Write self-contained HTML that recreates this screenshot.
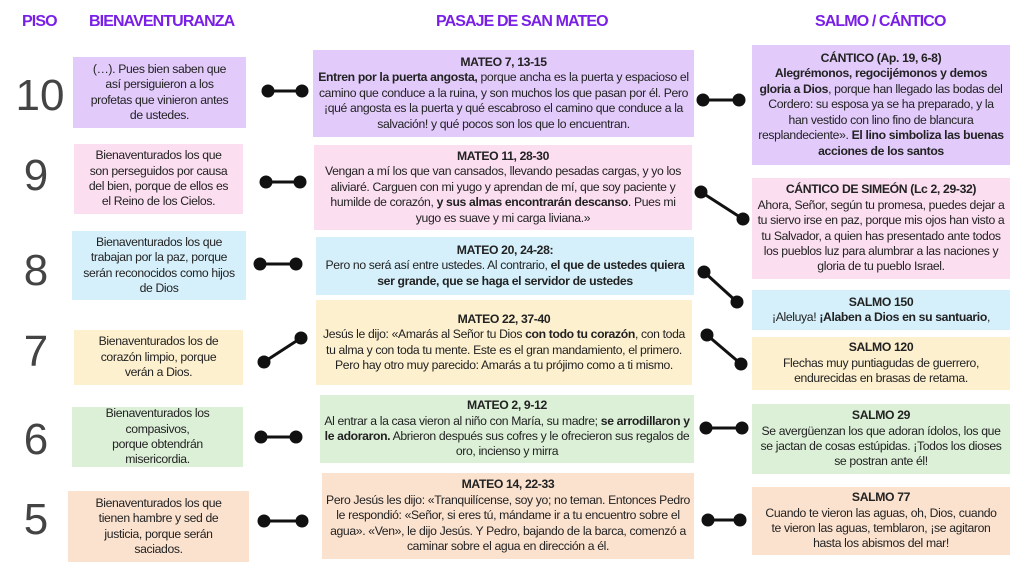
<!DOCTYPE html>
<html><head><meta charset="utf-8"><style>
body{margin:0;width:1024px;height:574px;background:#fff;position:relative;overflow:hidden;font-family:"Liberation Sans",sans-serif;}
.h{position:absolute;color:#7a1fe6;font-weight:bold;font-size:16px;letter-spacing:-0.9px;top:13px;}
.b{position:absolute;box-sizing:border-box;display:flex;flex-direction:column;justify-content:center;text-align:center;font-size:12.2px;line-height:15.4px;color:#222;padding:2px 3px;letter-spacing:-0.35px;}
.l{padding:2px 11px;}
.n{position:absolute;font-size:44px;color:#444;width:60px;text-align:center;line-height:44px;}
.pu{background:#e2cbfb}.pk{background:#fbdef0}.bl{background:#d5f0fb}.ye{background:#fdf0cf}.gr{background:#dcf0d8}.pe{background:#fbe2cf}
svg{position:absolute;left:0;top:0}
</style></head><body>
<div class="h" style="left:22px">PISO</div>
<div class="h" style="left:89px">BIENAVENTURANZA</div>
<div class="h" style="left:436px">PASAJE DE SAN MATEO</div>
<div class="h" style="left:815px">SALMO / CÁNTICO</div>

<div class="n" style="left:10px;top:74px">10</div>
<div class="n" style="left:6px;top:154px">9</div>
<div class="n" style="left:6px;top:249px">8</div>
<div class="n" style="left:6px;top:330px">7</div>
<div class="n" style="left:6px;top:418px">6</div>
<div class="n" style="left:6px;top:498px">5</div>

<div class="b l pu" style="left:73px;top:57px;width:173px;height:71px">(…). Pues bien saben que así persiguieron a los profetas que vinieron antes de ustedes.</div>
<div class="b l pk" style="left:74px;top:144px;width:169px;height:70px">Bienaventurados los que son perseguidos por causa del bien, porque de ellos es el Reino de los Cielos.</div>
<div class="b l bl" style="left:72px;top:231px;width:174px;height:69px">Bienaventurados los que trabajan por la paz, porque serán reconocidos como hijos de Dios</div>
<div class="b l ye" style="left:74px;top:330px;width:169px;height:55px">Bienaventurados los de corazón limpio, porque verán a Dios.</div>
<div class="b l gr" style="left:72px;top:407px;width:171px;height:60px">Bienaventurados los compasivos,<br>porque obtendrán misericordia.</div>
<div class="b l pe" style="left:68px;top:491px;width:181px;height:71px;padding:2px 16px">Bienaventurados los que tienen hambre y sed de justicia, porque serán saciados.</div>

<div class="b pu" style="left:313px;top:50px;width:381px;height:87px"><b>MATEO 7, 13-15</b><span><b>Entren por la puerta angosta,</b> porque ancha es la puerta y espacioso el camino que conduce a la ruina, y son muchos los que pasan por él. Pero ¡qué angosta es la puerta y qué escabroso el camino que conduce a la salvación! y qué pocos son los que lo encuentran.</span></div>
<div class="b pk" style="left:314px;top:145px;width:378px;height:85px"><b>MATEO 11, 28-30</b><span>Vengan a mí los que van cansados, llevando pesadas cargas, y yo los aliviaré. Carguen con mi yugo y aprendan de mí, que soy paciente y humilde de corazón, <b>y sus almas encontrarán descanso</b>. Pues mi yugo es suave y mi carga liviana.»</span></div>
<div class="b bl" style="left:316px;top:237px;width:378px;height:58px"><b>MATEO 20, 24-28:</b><span>Pero no será así entre ustedes. Al contrario, <b>el que de ustedes quiera ser grande, que se haga el servidor de ustedes</b></span></div>
<div class="b ye" style="left:316px;top:300px;width:376px;height:85px"><b>MATEO 22, 37-40</b><span>Jesús le dijo: «Amarás al Señor tu Dios <b>con todo tu corazón</b>, con toda tu alma y con toda tu mente. Este es el gran mandamiento, el primero. Pero hay otro muy parecido: Amarás a tu prójimo como a ti mismo.</span></div>
<div class="b gr" style="left:320px;top:395px;width:374px;height:68px"><b>MATEO 2, 9-12</b><span>Al entrar a la casa vieron al niño con María, su madre; <b>se arrodillaron y le adoraron.</b> Abrieron después sus cofres y le ofrecieron sus regalos de oro, incienso y mirra</span></div>
<div class="b pe" style="left:322px;top:473px;width:372px;height:86px"><b>MATEO 14, 22-33</b><span>Pero Jesús les dijo: «Tranquilícense, soy yo; no teman. Entonces Pedro le respondió: «Señor, si eres tú, mándame ir a tu encuentro sobre el agua». «Ven», le dijo Jesús. Y Pedro, bajando de la barca, comenzó a caminar sobre el agua en dirección a él.</span></div>

<div class="b l pu" style="left:752px;top:45px;width:258px;height:120px;padding:2px 6px"><b>CÁNTICO (Ap. 19, 6-8)</b><span><b>Alegrémonos, regocijémonos y demos gloria a Dios</b>, porque han llegado las bodas del Cordero: su esposa ya se ha preparado, y la han vestido con lino fino de blancura resplandeciente». <b>El lino simboliza las buenas acciones de los santos</b></span></div>
<div class="b pk" style="left:752px;top:178px;width:258px;height:101px;padding:2px 5px"><b>CÁNTICO DE SIMEÓN (Lc 2, 29-32)</b><span>Ahora, Señor, según tu promesa, puedes dejar a tu siervo irse en paz, porque mis ojos han visto a tu Salvador, a quien has presentado ante todos los pueblos luz para alumbrar a las naciones y gloria de tu pueblo Israel.</span></div>
<div class="b bl" style="left:752px;top:290px;width:258px;height:40px"><b>SALMO 150</b><span>¡Aleluya! <b>¡Alaben a Dios en su santuario</b>,</span></div>
<div class="b ye" style="left:752px;top:337px;width:258px;height:53px;padding:2px 14px"><b>SALMO 120</b><span>Flechas muy puntiagudas de guerrero, endurecidas en brasas de retama.</span></div>
<div class="b gr" style="left:752px;top:404px;width:258px;height:70px;padding:2px 5px"><b>SALMO 29</b><span>Se avergüenzan los que adoran ídolos, los que se jactan de cosas estúpidas. ¡Todos los dioses se postran ante él!</span></div>
<div class="b pe" style="left:752px;top:487px;width:258px;height:68px;padding:2px 8px"><b>SALMO 77</b><span>Cuando te vieron las aguas, oh, Dios, cuando te vieron las aguas, temblaron, ¡se agitaron hasta los abismos del mar!</span></div>

<svg width="1024" height="574" stroke="#111" stroke-width="3" fill="#111">
<g>
<line x1="268" y1="91" x2="302" y2="91"/><circle cx="268" cy="91" r="5"/><circle cx="302" cy="91" r="5"/>
<line x1="266" y1="182" x2="300" y2="182"/><circle cx="266" cy="182" r="5"/><circle cx="300" cy="182" r="5"/>
<line x1="260" y1="264" x2="296" y2="264"/><circle cx="260" cy="264" r="5"/><circle cx="296" cy="264" r="5"/>
<line x1="264" y1="362" x2="301" y2="338"/><circle cx="264" cy="362" r="5"/><circle cx="301" cy="338" r="5"/>
<line x1="261" y1="437" x2="296" y2="437"/><circle cx="261" cy="437" r="5"/><circle cx="296" cy="437" r="5"/>
<line x1="264" y1="521" x2="302" y2="521"/><circle cx="264" cy="521" r="5"/><circle cx="302" cy="521" r="5"/>
<line x1="703" y1="100" x2="739" y2="100"/><circle cx="703" cy="100" r="5"/><circle cx="739" cy="100" r="5"/>
<line x1="701" y1="192" x2="743" y2="219"/><circle cx="701" cy="192" r="5"/><circle cx="743" cy="219" r="5"/>
<line x1="704" y1="272" x2="737" y2="302"/><circle cx="704" cy="272" r="5"/><circle cx="737" cy="302" r="5"/>
<line x1="707" y1="335" x2="741" y2="364"/><circle cx="707" cy="335" r="5"/><circle cx="741" cy="364" r="5"/>
<line x1="706" y1="428" x2="742" y2="428"/><circle cx="706" cy="428" r="5"/><circle cx="742" cy="428" r="5"/>
<line x1="708" y1="520" x2="740" y2="520"/><circle cx="708" cy="520" r="5"/><circle cx="740" cy="520" r="5"/>
</g></svg>
</body></html>
